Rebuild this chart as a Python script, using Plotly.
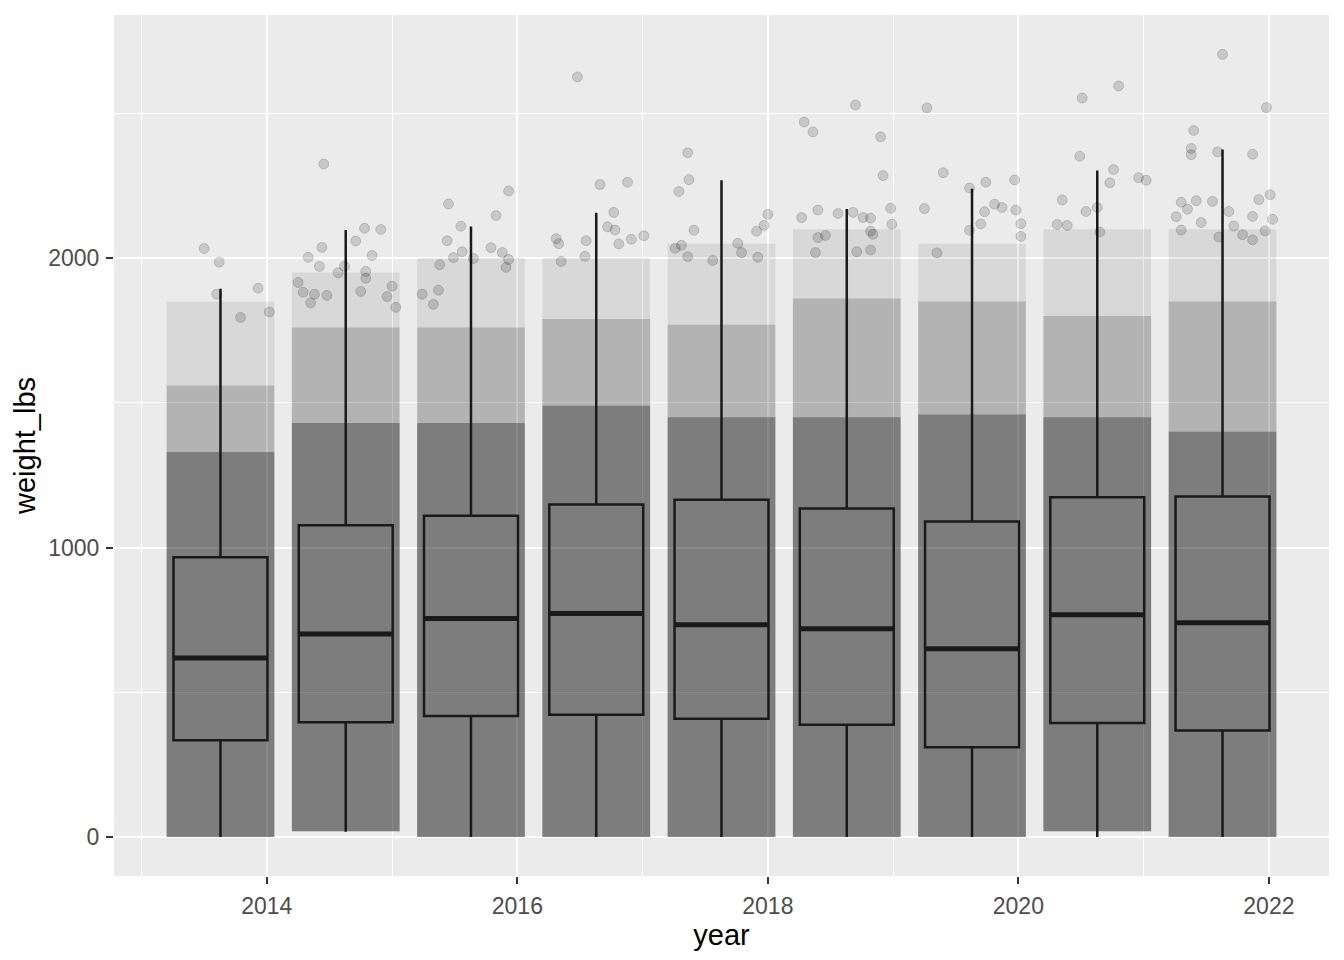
import plotly.graph_objects as go

# box positions (x), one box per year
box_x = [2013.63, 2014.63, 2015.63, 2016.63, 2017.63, 2018.63, 2019.63, 2020.63, 2021.63]
q1 = [334, 396, 418, 422, 408, 388, 310, 394, 368]
median = [618, 701, 755, 772, 733, 719, 650, 768, 740]
q3 = [966, 1077, 1110, 1149, 1165, 1135, 1090, 1174, 1176]
upper = [1894, 2097, 2109, 2157, 2269, 2170, 2240, 2303, 2375]
lower = [0, 18, 0, 0, 0, 0, 0, 0, 0]

# the jittered point cloud, summarised as density bands
cloud_bottom = [0, 20, 0, 0, 0, 0, 0, 20, 0]
dense_top = [1330, 1430, 1430, 1490, 1450, 1450, 1460, 1450, 1400]
mid_top = [1560, 1760, 1760, 1790, 1770, 1860, 1850, 1800, 1850]
sparse_top = [1850, 1950, 2000, 2000, 2050, 2100, 2050, 2100, 2100]

# the individually visible points at the top of each cloud
pt_x = [2014.455, 2013.50, 2013.62, 2013.60, 2013.93, 2014.02, 2013.79,
        2014.78, 2014.91, 2014.71, 2014.44, 2014.33, 2014.42, 2014.84, 2014.62,
        2014.79, 2014.57, 2014.79, 2014.25, 2014.29, 2014.38, 2014.48, 2014.75,
        2015.00, 2014.96, 2015.03, 2014.35,
        2015.45, 2015.44, 2015.38, 2015.24, 2015.37, 2015.33, 2015.93, 2015.83,
        2015.55, 2015.56, 2015.79, 2015.88, 2015.93, 2015.49, 2015.91, 2015.65,
        2016.48, 2016.66, 2016.88, 2016.77, 2016.72, 2016.78, 2016.31, 2016.33,
        2016.55, 2016.81, 2016.91, 2017.01, 2016.54, 2016.35,
        2017.36, 2017.37, 2017.29, 2017.41, 2017.26, 2017.31, 2017.36, 2017.76,
        2017.79, 2018.00, 2017.97, 2017.91, 2017.92, 2017.56,
        2018.29, 2018.36, 2018.70, 2018.90, 2018.92, 2018.98, 2018.99, 2018.27,
        2018.40, 2018.56, 2018.68, 2018.76, 2018.82, 2018.40, 2018.46, 2018.82,
        2018.84, 2018.38, 2018.71, 2018.82,
        2019.27, 2019.40, 2019.25, 2019.61, 2019.74, 2019.97, 2019.81, 2019.87,
        2019.98, 2019.73, 2019.70, 2020.02, 2020.02, 2019.61, 2019.35,
        2020.51, 2020.80, 2020.49, 2020.76, 2020.73, 2020.96, 2021.02, 2020.35,
        2020.54, 2020.63, 2020.31, 2020.39, 2020.65,
        2021.63, 2021.98, 2021.40, 2021.38, 2021.38, 2021.59, 2021.87, 2022.01,
        2021.92, 2022.03, 2021.97, 2021.30, 2021.42, 2021.55, 2021.35, 2021.26,
        2021.68, 2021.87, 2021.46, 2021.30, 2021.72, 2021.79, 2021.87, 2021.60]
pt_y = [2325, 2033, 1986, 1875, 1896, 1814, 1795,
        2103, 2099, 2059, 2037, 2003, 1971, 2009, 1972,
        1954, 1949, 1930, 1916, 1882, 1875, 1871, 1885,
        1903, 1867, 1830, 1845,
        2187, 2060, 1977, 1875, 1889, 1840, 2232, 2147,
        2110, 2022, 2036, 2019, 1995, 2002, 1968, 1999,
        2626, 2254, 2262, 2158, 2108, 2097, 2067, 2050,
        2060, 2049, 2065, 2077, 2006, 1988,
        2364, 2271, 2230, 2096, 2034, 2044, 2005, 2051,
        2019, 2151, 2113, 2093, 2003, 1992,
        2470, 2436, 2529, 2419, 2285, 2172, 2117, 2140,
        2166, 2154, 2158, 2140, 2138, 2071, 2078, 2093,
        2082, 2019, 2022, 2028,
        2519, 2295, 2171, 2242, 2262, 2270, 2186, 2175,
        2166, 2160, 2118, 2119, 2075, 2096, 2018,
        2553, 2595, 2352, 2306, 2260, 2278, 2269, 2201,
        2161, 2175, 2116, 2113, 2090,
        2704, 2520, 2441, 2379, 2357, 2367, 2359, 2219,
        2202, 2134, 2094, 2193, 2198, 2196, 2169, 2143,
        2161, 2144, 2123, 2097, 2111, 2081, 2063, 2073]

box_width = 0.75
cloud_width = 0.86

fig = go.Figure()

# point cloud bands (overlaid, so the lower part gets darker)
for tops, alpha in [(sparse_top, 0.08), (mid_top, 0.17), (dense_top, 0.30)]:
    fig.add_trace(go.Bar(
        x=box_x,
        y=[t - b for t, b in zip(tops, cloud_bottom)],
        base=cloud_bottom,
        width=cloud_width,
        marker=dict(color=f"rgba(0,0,0,{alpha})", line=dict(width=0)),
        hoverinfo="skip",
    ))

# sparse points
fig.add_trace(go.Scatter(
    x=pt_x,
    y=pt_y,
    mode="markers",
    marker=dict(size=10, color="rgba(0,0,0,0.15)",
                line=dict(width=1, color="rgba(0,0,0,0.15)")),
    hovertemplate="%{x:.2f}: %{y}<extra></extra>",
))

# boxplots
fig.add_trace(go.Box(
    x=box_x,
    q1=q1,
    median=median,
    q3=q3,
    lowerfence=lower,
    upperfence=upper,
    width=box_width,
    whiskerwidth=0,
    boxpoints=False,
    fillcolor="rgba(0,0,0,0)",
    line=dict(color="#1a1a1a", width=2.5),
))

# thicker median line, like ggplot
med_x, med_y = [], []
for c, m in zip(box_x, median):
    med_x += [c - box_width / 2, c + box_width / 2, None]
    med_y += [m, m, None]
fig.add_trace(go.Scatter(
    x=med_x, y=med_y, mode="lines",
    line=dict(color="#1a1a1a", width=5),
    hoverinfo="skip",
))

axis_common = dict(
    showgrid=True,
    gridcolor="white",
    gridwidth=2,
    zeroline=False,
    ticks="outside",
    ticklen=7,
    tickwidth=2,
    tickcolor="#333333",
    tickfont=dict(size=23, color="#4d4d4d"),
    ticklabelstandoff=2,
    showline=False,
)

# page body has an 8px margin, so the figure is a little smaller than the window
fig.update_layout(
    width=1336,
    height=952,
    margin=dict(l=106, r=15, t=7, b=84),
    paper_bgcolor="white",
    plot_bgcolor="#ebebeb",
    font=dict(family="Liberation Sans, Arial, sans-serif", color="black"),
    showlegend=False,
    barmode="overlay",
    xaxis=dict(
        axis_common,
        range=[2012.78, 2022.48],
        tickmode="array",
        tickvals=[2014, 2016, 2018, 2020, 2022],
        minor=dict(showgrid=True, gridcolor="white", gridwidth=1,
                   tickvals=[2013, 2015, 2017, 2019, 2021]),
        title=dict(text="year", font=dict(size=29, color="black"), standoff=4),
    ),
    yaxis=dict(
        axis_common,
        range=[-135, 2840],
        tickmode="array",
        tickvals=[0, 1000, 2000],
        minor=dict(showgrid=True, gridcolor="white", gridwidth=1,
                   tickvals=[500, 1500, 2500]),
        title=dict(text="weight_lbs", font=dict(size=29, color="black"), standoff=4),
    ),
)

fig.write_html("out.html")
